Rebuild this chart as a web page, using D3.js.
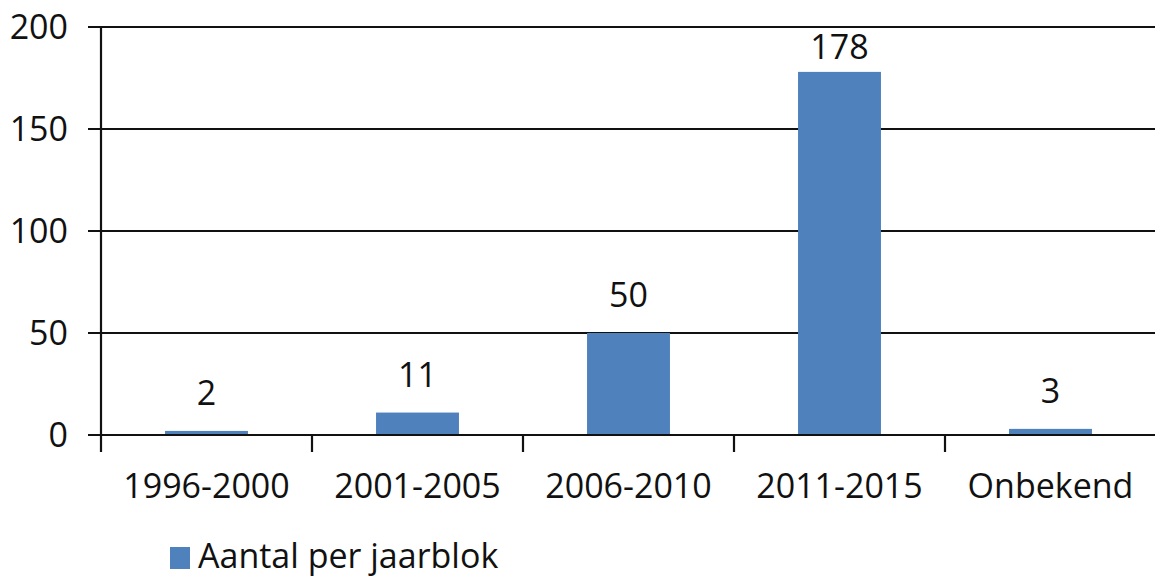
<!DOCTYPE html>
<html>
<head>
<meta charset="utf-8">
<script src="https://cdn.jsdelivr.net/npm/d3@7"></script>
<style>
  html, body { margin: 0; padding: 0; background: #fff; }
  svg { display: block; font-family: "Open Sans", "Noto Sans", sans-serif; }
</style>
</head>
<body>
<svg id="chart" width="1155" height="580"></svg>
<script>
// Number of items per five-year block
const categories = ["1996-2000", "2001-2005", "2006-2010", "2011-2015", "Onbekend"];
const values = [2, 11, 50, 178, 3];
const yTicks = [0, 50, 100, 150, 200];
const seriesName = "Aantal per jaarblok";

const svg = d3.select("#chart");
const fontSize = 34;
const barColor = "#4f81bd";

const plot = { left: 101, right: 1156, top: 27, bottom: 435 };

const x = d3.scaleBand()
  .domain(categories)
  .range([plot.left, plot.right])
  .paddingInner(0.607)
  .paddingOuter(0.3035);

const y = d3.scaleLinear()
  .domain([0, 200])
  .range([plot.bottom, plot.top]);

// Horizontal gridlines with short ticks left of the axis
svg.append("g")
  .selectAll("line")
  .data(yTicks)
  .join("line")
  .attr("x1", plot.left - 13)
  .attr("x2", 1155)
  .attr("y1", d => y(d))
  .attr("y2", d => y(d))
  .attr("stroke", "#111")
  .attr("stroke-width", 2.2);

// Y tick labels
svg.append("g")
  .selectAll("text")
  .data(yTicks)
  .join("text")
  .attr("x", 68)
  .attr("y", d => y(d) + 12)
  .attr("text-anchor", "end")
  .attr("font-size", fontSize)
  .attr("fill", "#111")
  .text(d => d);

// Bars
svg.append("g")
  .selectAll("rect")
  .data(values)
  .join("rect")
  .attr("x", (d, i) => x(categories[i]))
  .attr("width", x.bandwidth())
  .attr("y", d => y(d))
  .attr("height", d => y(0) - y(d))
  .attr("fill", barColor);

// Baseline drawn over the bars
svg.append("line")
  .attr("x1", plot.left - 13)
  .attr("x2", 1155)
  .attr("y1", y(0))
  .attr("y2", y(0))
  .attr("stroke", "#111")
  .attr("stroke-width", 2.2);

// Vertical axis line
svg.append("line")
  .attr("x1", plot.left)
  .attr("x2", plot.left)
  .attr("y1", y(200) - 1)
  .attr("y2", y(0) + 17)
  .attr("stroke", "#111")
  .attr("stroke-width", 2.2);

// Category separators below the baseline
const step = x.step();
const boundaries = categories.map((c, i) => plot.left + step * (i + 1)).filter(v => v < 1155);
svg.append("g")
  .selectAll("line")
  .data(boundaries)
  .join("line")
  .attr("x1", d => d)
  .attr("x2", d => d)
  .attr("y1", y(0))
  .attr("y2", y(0) + 17)
  .attr("stroke", "#111")
  .attr("stroke-width", 2.2);

// Category labels
svg.append("g")
  .selectAll("text")
  .data(categories)
  .join("text")
  .attr("x", d => x(d) + x.bandwidth() / 2)
  .attr("y", 498)
  .attr("text-anchor", "middle")
  .attr("font-size", fontSize)
  .attr("fill", "#111")
  .text(d => d);

// Value labels above each bar, kept inside the plot area
svg.append("g")
  .selectAll("text")
  .data(values)
  .join("text")
  .attr("x", (d, i) => x(categories[i]) + x.bandwidth() / 2)
  .attr("y", d => Math.max(y(d) - 26, y(200) + 32))
  .attr("text-anchor", "middle")
  .attr("font-size", fontSize)
  .attr("fill", "#111")
  .text(d => d);

// Legend
const legend = svg.append("g");
legend.append("rect")
  .attr("x", 170)
  .attr("y", 547)
  .attr("width", 20)
  .attr("height", 22)
  .attr("fill", barColor);
legend.append("text")
  .attr("x", 198)
  .attr("y", 568)
  .attr("font-size", fontSize)
  .attr("fill", "#111")
  .text(seriesName);
</script>
</body>
</html>
